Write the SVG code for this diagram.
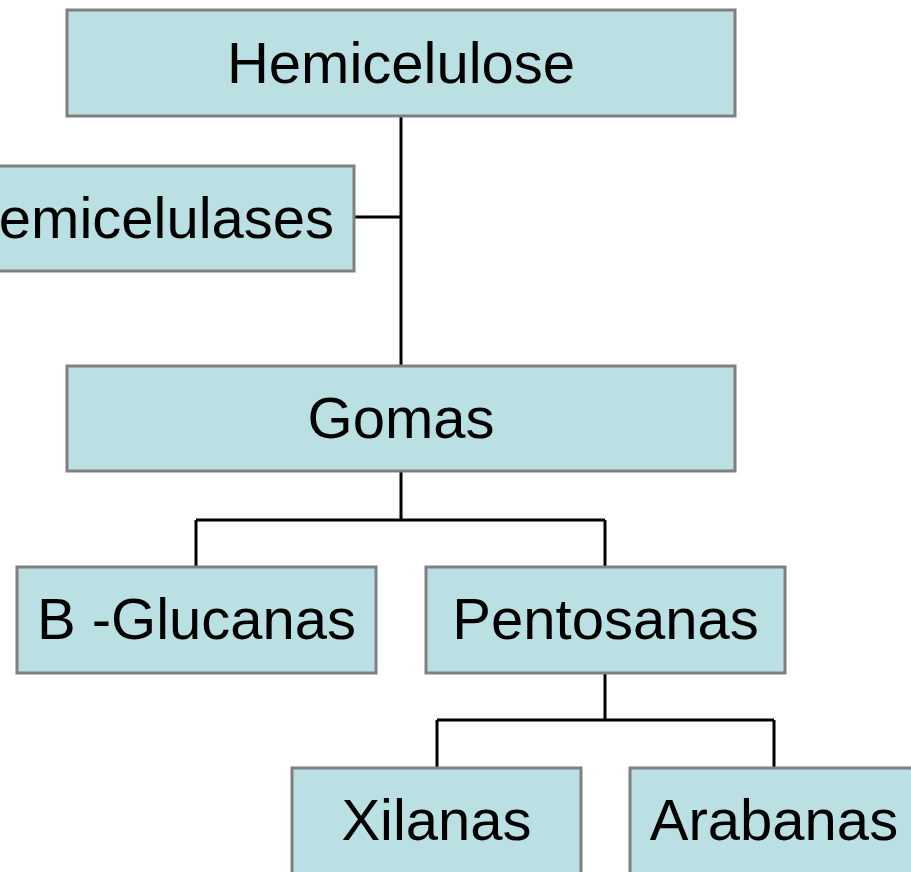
<svg xmlns="http://www.w3.org/2000/svg" width="911" height="872" viewBox="0 0 911 872">
  <style>
    .box { fill: #bbe0e3; stroke: #808080; stroke-width: 3; }
    .lbl { font-family: "Liberation Sans", Arial, sans-serif; font-size: 58px; fill: #000; text-anchor: middle; }
    .link { fill: none; stroke: #000; stroke-width: 3; }
  </style>
  <rect width="911" height="872" fill="#fff"/>
  <g id="connectors">
    <path class="link" d="M401 116 V366"/>
    <path class="link" d="M354 217 H401"/>
    <path class="link" d="M401 471 V520 M196 520 H605 M196 520 V567 M605 520 V567"/>
    <path class="link" d="M605 673 V720 M437 720 H774 M437 720 V768 M774 720 V768"/>
  </g>
  <g id="hemicelulose">
    <rect class="box" x="67" y="10" width="668" height="106"/>
    <text class="lbl" x="401" y="83">Hemicelulose</text>
  </g>
  <g id="hemicelulases">
    <rect class="box" x="-63" y="166" width="417" height="105"/>
    <text class="lbl" x="145.5" y="238">Hemicelulases</text>
  </g>
  <g id="gomas">
    <rect class="box" x="67" y="366" width="668" height="105"/>
    <text class="lbl" x="401" y="438">Gomas</text>
  </g>
  <g id="b-glucanas">
    <rect class="box" x="17" y="567" width="359" height="106"/>
    <text class="lbl" x="196.5" y="639">B -Glucanas</text>
  </g>
  <g id="pentosanas">
    <rect class="box" x="426" y="567" width="359" height="106"/>
    <text class="lbl" x="605.5" y="639">Pentosanas</text>
  </g>
  <g id="xilanas">
    <rect class="box" x="292" y="768" width="289" height="106"/>
    <text class="lbl" x="436.5" y="840">Xilanas</text>
  </g>
  <g id="arabanas">
    <rect class="box" x="630" y="768" width="289" height="106"/>
    <text class="lbl" x="774" y="840">Arabanas</text>
  </g>
</svg>
